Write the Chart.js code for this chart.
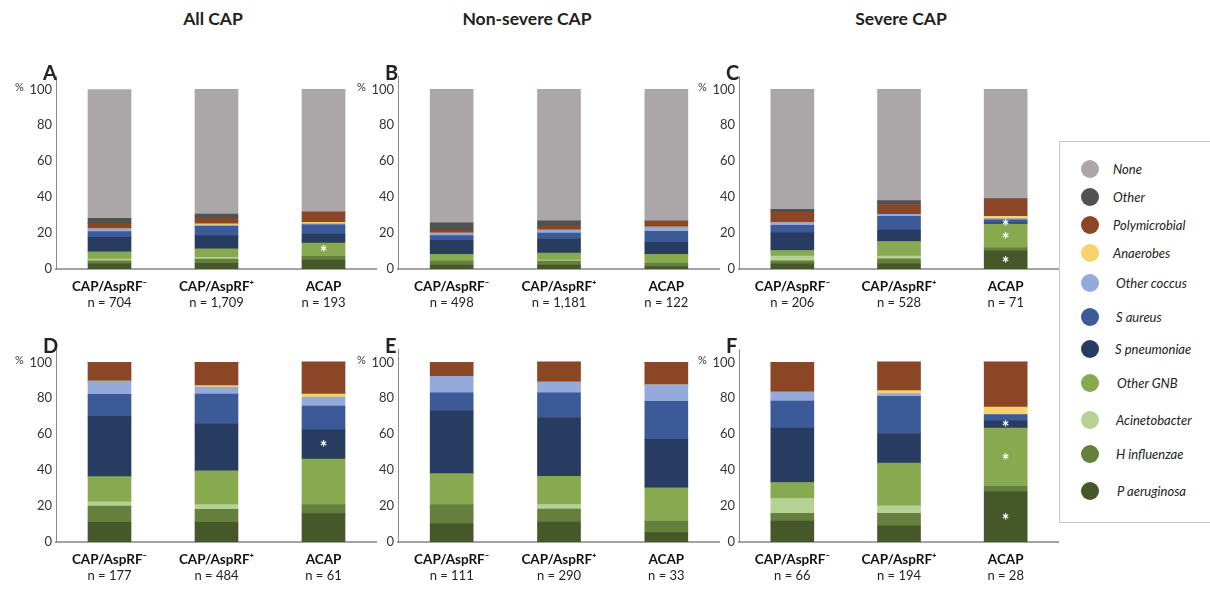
<!doctype html>
<html lang="en">
  <head>
    <meta charset="UTF-8" />
    <title>CAP pathogens</title>
    <style>
      body {
        margin: 0;
        width: 1210px;
        height: 589px;
        position: relative;
        background: #fff;
        font-family: Lato, "Open Sans", sans-serif;
        color: #222;
        overflow: hidden;
      }
      .panel { position: absolute; }
      .title {
        position: absolute;
        top: 8px;
        font-weight: bold;
        font-size: 17.5px;
        transform: translateX(-50%);
        white-space: nowrap;
      }
      .letter {
        position: absolute;
        font-weight: bold;
        font-size: 20px;
        line-height: 20px;
      }
      .pct {
        position: absolute;
        font-size: 11px;
        line-height: 12px;
        color: #333;
      }
      .legend {
        position: absolute;
        left: 1059px;
        top: 141px;
        width: 170px;
        height: 380px;
        border: 1px solid #c8c8c8;
      }
      .item {
        position: absolute;
        font-style: italic;
        font-size: 13px;
        line-height: 14px;
        white-space: nowrap;
      }
      .dot {
        position: absolute;
        width: 18px;
        height: 18px;
        border-radius: 50%;
      }
    </style>
  </head>
  <body>
    <div class="title" style="left: 213px">All CAP</div>
    <div class="title" style="left: 527px">Non-severe CAP</div>
    <div class="title" style="left: 901px">Severe CAP</div>
    <div id="charts"></div>
    <div class="legend" id="legend"></div>

    <script src="https://cdn.jsdelivr.net/npm/chart.js"></script>
    <script>
      // categorias e rótulos
      const categories = ['CAP/AspRF\u207B', 'CAP/AspRF\u207A', 'ACAP'];
      const seriesNames = ['P aeruginosa', 'H influenzae', 'Acinetobacter', 'Other GNB', 'S pneumoniae',
        'S aureus', 'Other coccus', 'Anaerobes', 'Polymicrobial', 'Other', 'None'];
      const seriesColors = ['#46572a', '#65803d', '#b5d294', '#87aa50', '#283b61',
        '#3c5a97', '#95aadb', '#f6d36c', '#8a4625', '#505252', '#aba7a8'];
      const yTicks = [0, 20, 40, 60, 80, 100];

      const nA = ['n = 704', 'n = 1,709', 'n = 193'];
      const nB = ['n = 498', 'n = 1,181', 'n = 122'];
      const nC = ['n = 206', 'n = 528', 'n = 71'];
      const nD = ['n = 177', 'n = 484', 'n = 61'];
      const nE = ['n = 111', 'n = 290', 'n = 33'];
      const nF = ['n = 66', 'n = 194', 'n = 28'];

      // uma linha por série (mesma ordem de seriesNames), 3 barras cada
      const valuesA = [[2.9, 3.1, 5.0], [1.7, 2.4, 2.2], [0.9, 0.9, 0], [4.0, 4.8, 7.2], [8.1, 7.2, 5.0],
        [3.3, 5.3, 5.2], [1.5, 0.7, 0.7], [0, 0.7, 0.7], [2.9, 3.3, 5.7], [2.9, 2.2, 0], [71.7, 69.4, 68.3]];
      const valuesB = [[2.2, 2.2, 1.3], [2.4, 2.2, 1.8], [0, 0.5, 0], [3.5, 3.9, 5.0], [7.9, 7.9, 6.8],
        [2.6, 3.3, 6.1], [1.4, 1.6, 2.4], [0, 0, 0], [1.5, 2.2, 3.3], [4.2, 3.0, 0], [74.3, 73.2, 73.3]];
      const valuesC = [[2.9, 2.9, 10.1], [1.7, 2.8, 1.8], [2.6, 1.5, 0], [3.1, 8.1, 13.1], [9.8, 6.4, 0.9],
        [4.2, 7.6, 1.5], [1.5, 1.1, 0.6], [0, 0, 1.3], [5.9, 5.5, 9.8], [1.5, 2.2, 0], [66.8, 61.9, 60.9]];
      const valuesD = [[11.0, 11.0, 15.8], [9.0, 7.2, 5.0], [2.4, 2.6, 0], [14.0, 18.8, 25.4], [33.5, 26.1, 16.2],
        [12.3, 16.6, 13.3], [7.4, 3.9, 5.0], [0, 0.9, 1.7], [10.3, 12.9, 17.7], [0, 0, 0], [0, 0, 0]];
      const valuesE = [[10.1, 11.1, 5.2], [10.7, 7.2, 6.5], [0, 2.6, 0], [17.3, 15.7, 18.5], [35.1, 32.7, 26.9],
        [9.8, 13.8, 21.2], [9.2, 5.9, 9.2], [0, 0, 0], [7.7, 11.1, 12.5], [0, 0, 0], [0, 0, 0]];
      const valuesF = [[11.6, 9.2, 28.1], [4.3, 6.7, 3.1], [8.3, 4.3, 0], [8.9, 23.7, 32.2], [30.3, 16.5, 4.1],
        [15.0, 20.7, 3.5], [5.0, 1.5, 0], [0, 1.7, 4.1], [16.6, 15.9, 25.0], [0, 0, 0], [0, 0, 0]];

      // asteriscos: [barra, série]
      const starsA = [[2, 3]];
      const starsC = [[2, 4], [2, 3], [2, 0]];
      const starsD = [[2, 4]];
      const starsF = [[2, 4], [2, 3], [2, 0]];

      const panels = [
        { letter: 'A', values: valuesA, n: nA, stars: starsA, left: 56, w: 321, top: 75 },
        { letter: 'B', values: valuesB, n: nB, stars: [], left: 398, w: 322, top: 75 },
        { letter: 'C', values: valuesC, n: nC, stars: starsC, left: 739, w: 320, top: 75 },
        { letter: 'D', values: valuesD, n: nD, stars: starsD, left: 56, w: 321, top: 348 },
        { letter: 'E', values: valuesE, n: nE, stars: [], left: 398, w: 322, top: 348 },
        { letter: 'F', values: valuesF, n: nF, stars: starsF, left: 739, w: 320, top: 348 }
      ];

      const starPlugin = {
        id: 'stars',
        afterDatasetsDraw(chart, args, opts) {
          const ctx = chart.ctx;
          ctx.save();
          ctx.fillStyle = '#fff';
          ctx.font = 'bold 18px Lato';
          ctx.textAlign = 'center';
          ctx.textBaseline = 'middle';
          (opts.marks || []).forEach(function (m) {
            const el = chart.getDatasetMeta(m[1]).data[m[0]];
            ctx.fillText('*', el.x, (el.y + el.base) / 2 + 4);
          });
          ctx.restore();
        }
      };

      const holder = document.getElementById('charts');
      const YW = 40, PADTOP = 10, AREA_H = 194, XH = 26, X2H = 20;

      panels.forEach(function (p) {
        const div = document.createElement('div');
        div.className = 'panel';
        div.style.left = (p.left - YW) + 'px';
        div.style.top = (p.top - PADTOP) + 'px';
        const cv = document.createElement('canvas');
        cv.width = YW + p.w;
        cv.height = PADTOP + AREA_H + XH + X2H;
        div.appendChild(cv);
        holder.appendChild(div);

        const let_ = document.createElement('div');
        let_.className = 'letter';
        let_.textContent = p.letter;
        let_.style.left = (p.left - 13) + 'px';
        let_.style.top = (p.top - 13) + 'px';
        holder.appendChild(let_);

        const pc = document.createElement('div');
        pc.className = 'pct';
        pc.textContent = '%';
        pc.style.left = (p.left - 41) + 'px';
        pc.style.top = (p.top + 6) + 'px';
        holder.appendChild(pc);

        new Chart(cv, {
          type: 'bar',
          data: {
            labels: categories,
            datasets: seriesNames.map(function (name, i) {
              return {
                label: name,
                data: p.values[i],
                backgroundColor: seriesColors[i],
                borderWidth: 0,
                barThickness: 43
              };
            })
          },
          options: {
            responsive: false,
            animation: false,
            devicePixelRatio: 1,
            layout: { padding: { top: PADTOP, left: 0, right: 0, bottom: 0 } },
            plugins: {
              legend: { display: false },
              tooltip: { enabled: false },
              stars: { marks: p.stars }
            },
            scales: {
              x: {
                stacked: true,
                weight: 0,
                grid: { display: false, drawTicks: false },
                border: { color: '#a3a3a3', width: 2 },
                ticks: { padding: 10, color: '#111', font: { family: 'Lato', size: 13.5, weight: 'bold' } },
                afterFit: function (s) { s.height = XH; }
              },
              x2: {
                type: 'category',
                position: 'bottom',
                weight: 1,
                labels: p.n,
                offset: true,
                grid: { display: false, drawTicks: false },
                border: { display: false },
                ticks: { padding: 0, color: '#222', font: { family: 'Lato', size: 13 } },
                afterFit: function (s) { s.height = X2H; }
              },
              y: {
                stacked: true,
                min: 0,
                max: 107,
                grid: { display: false, drawTicks: false },
                border: { color: '#8a8a8a', width: 1 },
                ticks: { stepSize: 20, padding: 4, color: '#333', font: { family: 'Lato', size: 13 } },
                afterBuildTicks: function (s) {
                  s.ticks = yTicks.map(function (v) { return { value: v }; });
                },
                afterFit: function (s) { s.width = YW; }
              }
            }
          },
          plugins: [starPlugin]
        });
      });

      // legenda (de cima para baixo)
      const legendY = [169, 197, 225, 253, 283, 317, 349, 383, 420, 454, 491];
      const legendLabelX = [1113, 1113, 1113, 1113, 1116, 1116, 1115, 1117, 1116, 1116, 1117];
      const legend = document.getElementById('legend');
      for (let k = 0; k < seriesNames.length; k++) {
        const i = seriesNames.length - 1 - k;
        const dot = document.createElement('div');
        dot.className = 'dot';
        dot.style.background = seriesColors[i];
        dot.style.left = (1090 - 9 - 1060) + 'px';
        dot.style.top = (legendY[k] - 9 - 142) + 'px';
        legend.appendChild(dot);
        const lab = document.createElement('div');
        lab.className = 'item';
        lab.textContent = seriesNames[i];
        lab.style.left = (legendLabelX[k] - 1060) + 'px';
        lab.style.top = (legendY[k] - 7 - 142) + 'px';
        legend.appendChild(lab);
      }
    </script>
  </body>
</html>
